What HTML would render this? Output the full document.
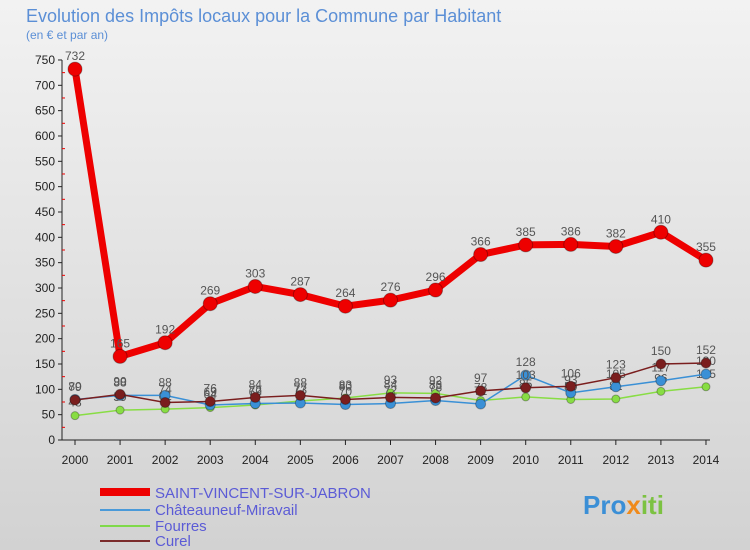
<!DOCTYPE html>
<html><head><meta charset="utf-8"><style>
body{margin:0;}
#c{width:750px;height:550px;position:relative;overflow:hidden;background:linear-gradient(#f2f2f2,#d2d2d2);font-family:"Liberation Sans",sans-serif;}
</style></head><body>
<div id="c">
<svg id="s" width="750" height="550" xmlns="http://www.w3.org/2000/svg" font-family="Liberation Sans, sans-serif">
<text x="26" y="22" font-size="18" fill="#5b8fd6">Evolution des Impôts locaux pour la Commune par Habitant</text>
<text x="26" y="39" font-size="12" fill="#5b8fd6">(en € et par an)</text>
<g id="axes"></g><g id="series"></g>
<g>
<line x1="100" y1="492" x2="150" y2="492" stroke="#ee0000" stroke-width="8"/>
<text x="155" y="498" font-size="15" fill="#5b5bd6">SAINT-VINCENT-SUR-JABRON</text>
<line x1="100" y1="510" x2="150" y2="510" stroke="#4a9ad9" stroke-width="2"/>
<text x="155" y="515" font-size="15" fill="#5b5bd6">Châteauneuf-Miravail</text>
<line x1="100" y1="526" x2="150" y2="526" stroke="#7fd94a" stroke-width="2"/>
<text x="155" y="531" font-size="15" fill="#5b5bd6">Fourres</text>
<line x1="100" y1="541" x2="150" y2="541" stroke="#7a2a2a" stroke-width="2"/>
<text x="155" y="546" font-size="15" fill="#5b5bd6">Curel</text>
</g>
<text x="583" y="514" font-size="26" font-weight="bold" fill="#3b8fd6">Pro<tspan fill="#f08a1a">x</tspan><tspan fill="#7cc242">iti</tspan></text>
</svg>
</div>
<script>
const years=[2000,2001,2002,2003,2004,2005,2006,2007,2008,2009,2010,2011,2012,2013,2014];
const yTicks=[0,50,100,150,200,250,300,350,400,450,500,550,600,650,700,750];
const saintVincent=[732,165,192,269,303,287,264,276,296,366,385,386,382,410,355];
const chateauneuf=[80,88,88,69,72,73,70,72,78,71,128,93,105,117,130];
const fourres=[48,59,61,64,69,77,83,93,92,78,85,80,81,96,105];
const curel=[79,90,74,76,84,88,80,84,83,97,103,106,123,150,152];
const NS="http://www.w3.org/2000/svg";
const x=i=>75+i*45.07;
const y=v=>440-v*0.5067;
function mk(tag,attrs,parent){const e=document.createElementNS(NS,tag);for(const k in attrs)e.setAttribute(k,attrs[k]);parent.appendChild(e);return e;}
const ax=document.getElementById('axes'),sr=document.getElementById('series');
let l=mk('line',{x1:62,y1:y(0),x2:62,y2:y(750),stroke:'#222'},ax);


l=mk('line',{x1:62,y1:y(0),x2:710,y2:y(0),stroke:'#222'},ax);


yTicks.forEach(v=>{
 mk('line',{x1:58,y1:y(v),x2:62,y2:y(v),stroke:'#222'},ax);
 const t=mk('text',{x:55,y:y(v)+4,'text-anchor':'end','font-size':12,fill:'#222'},ax);t.textContent=v;
 
 
 if(v<750)mk('line',{x1:62,y1:y(v+25),x2:65,y2:y(v+25),stroke:'#e00'},ax);
});
years.forEach((yr,i)=>{
 mk('line',{x1:x(i),y1:y(0),x2:x(i),y2:y(0)+5,stroke:'#222'},ax);
 const t=mk('text',{x:x(i),y:464,'text-anchor':'middle','font-size':12,fill:'#222'},ax);t.textContent=yr;
 
 
});
function series(vals,color,w,r,name){
 const g=mk('g',{},sr);
 
 
 mk('polyline',{points:vals.map((v,i)=>x(i)+','+y(v)).join(' '),fill:'none',stroke:color,'stroke-width':w},g);
 vals.forEach((v,i)=>{
  const c=mk('circle',{cx:x(i),cy:y(v),r:r,fill:color,stroke:'rgba(0,0,0,0.3)'},g);
  
  
  const t=mk('text',{x:x(i),y:y(v)-9,'text-anchor':'middle','font-size':12,fill:'#555'},g);t.textContent=v;
  
  
 });
}
series(fourres,'#88dd44',1.5,4,'series-fourres');
series(chateauneuf,'#3a90d6',1.5,5,'series-chateauneuf');
series(curel,'#7a1e1e',1.5,5,'series-curel');
series(saintVincent,'#ee0000',7,7,'series-saint-vincent');
</script>
</body></html>
